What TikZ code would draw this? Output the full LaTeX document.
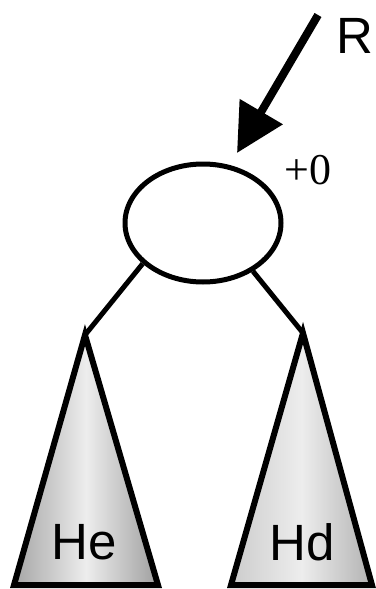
\documentclass[tikz,border=0pt]{standalone}
\usepackage{fontspec}
\setmainfont{Liberation Sans}
\newfontfamily\serifnum{Liberation Serif}
\usetikzlibrary{shapes.geometric,arrows.meta}
\begin{document}
\begin{tikzpicture}[x=1pt,y=-1pt,
  edge/.style={line width=5pt},
  subtree/.style={line width=6pt,line join=miter},
  lbl/.style={font=\fontsize{51}{51}\selectfont,inner sep=0pt}]
\useasboundingbox (0,0) rectangle (375,589);
\node[ellipse,draw,line width=5pt,minimum width=156pt,minimum height=118pt,inner sep=0pt] (e) at (203,223) {};
\coordinate (la) at (85,335);
\coordinate (ra) at (303,333);
\coordinate (lb1) at (14,585);
\coordinate (lb2) at (158,585);
\coordinate (rb1) at (231,585);
\coordinate (rb2) at (372,585);
\shade[left color=gray!70,right color=gray!75,middle color=white!93!black] (la) -- (lb2) -- (lb1) -- cycle;
\shade[left color=gray!40,right color=gray!60,middle color=white!93!black] (ra) -- (rb2) -- (rb1) -- cycle;
\draw[subtree] (la) -- (lb2) -- (lb1) -- cycle;
\draw[subtree] (ra) -- (rb2) -- (rb1) -- cycle;
\draw[edge] (e.214) -- (la);
\draw[edge] (e.316) -- (ra);
\node[lbl] (he) at (84,542) {He};
\node[lbl] (hd) at (302,542) {Hd};
\node[lbl] (r) at (355,36) {R};
\node[font=\serifnum\fontsize{44}{44}\selectfont,inner sep=0pt] (p) at (308,170) {+0};
\coordinate (as) at (318,15);
\coordinate (at) at (237,153);
\draw[line width=8pt,-{Triangle[length=48pt,width=48pt]}] (as) -- (at);
\end{tikzpicture}
\end{document}
